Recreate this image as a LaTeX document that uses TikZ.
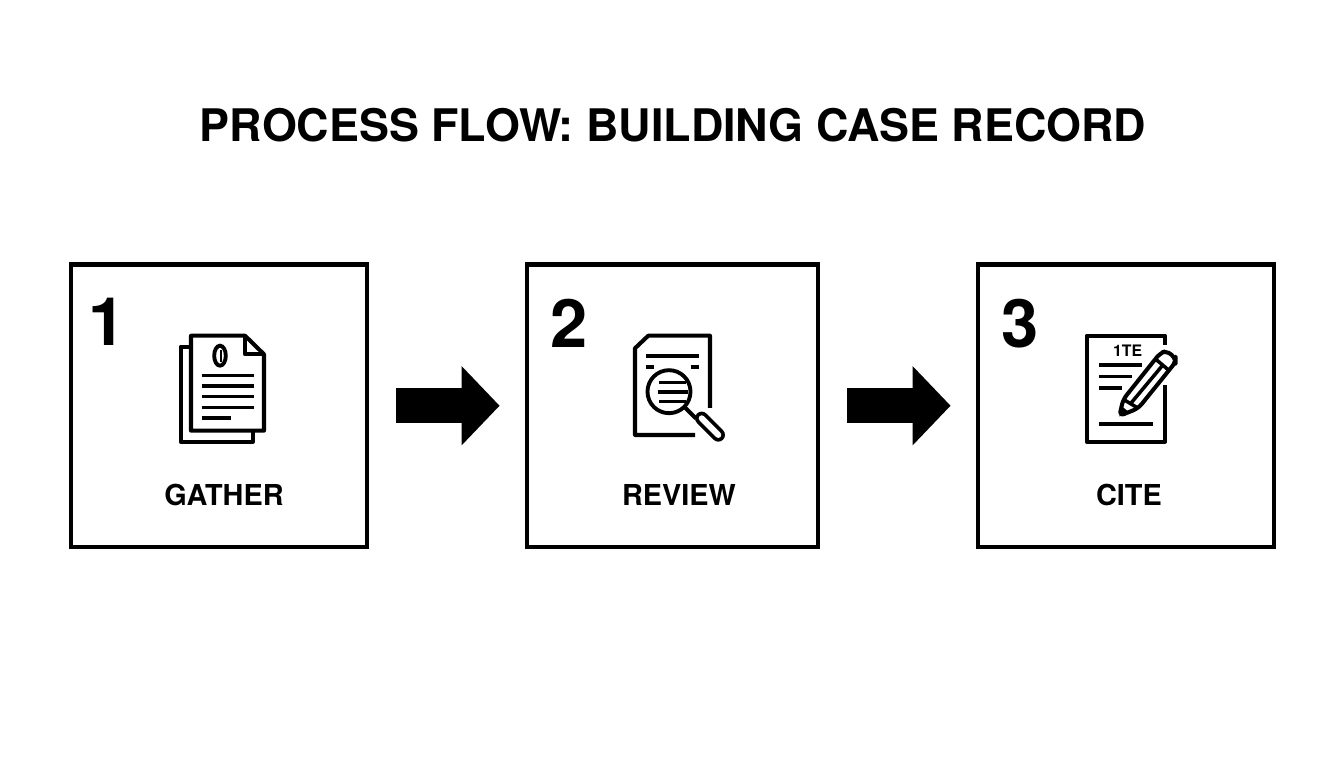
\documentclass[tikz,border=0pt]{standalone}
\usepackage{fontspec}
\setmainfont{TeX Gyre Heros}
\usetikzlibrary{arrows.meta}
\tikzset{%
  % Specifications for style of nodes:
     stepbox/.style = {rectangle, draw=black, line width=1.3pt, fill=white,
                       minimum height=2.82cm, inner sep=0pt},
  titleLabel/.style = {font=\fontsize{12.76}{15}\selectfont\bfseries},
   stepLabel/.style = {font=\fontsize{8.2}{10}\selectfont\bfseries},
  stepNumber/.style = {font=\fontsize{19}{22}\selectfont\bfseries},
  flowArrow/.style = {line width=0.35cm,
                      -{Triangle[length=0.38cm,width=0.77cm]},
                      shorten <=0.27cm, shorten >=0.25cm},
  iconLine/.style = {line width=1.15pt, line join=round},
  iconThin/.style = {line width=1pt},
}
\begin{document}
\begin{tikzpicture}[x=0.01cm,y=-0.01cm]
  \useasboundingbox (0,0) rectangle (1344,768);
  \node (title) [titleLabel] at (673,125) {PROCESS FLOW: BUILDING CASE RECORD};

  % Specification of the three boxes
  \node (boxGather) [stepbox, minimum width=2.96cm] at (219,405.75) {};
  \node (boxReview) [stepbox, minimum width=2.91cm] at (672.5,405.75) {};
  \node (boxCite)   [stepbox, minimum width=2.96cm] at (1126,405.75) {};

  \node (numGather) [stepNumber] at (107,321.5) {1};
  \node (numReview) [stepNumber] at (569,323.5) {2};
  \node (numCite)   [stepNumber] at (1020,323.5) {3};

  \node (labelGather) [stepLabel] at (224,495) {GATHER};
  \node (labelReview) [stepLabel] at (679,495) {REVIEW};
  \node (labelCite)   [stepLabel] at (1129,495) {CITE};

  % Arrows between boxes
  \draw[flowArrow] (boxGather) -- (boxReview);
  \draw[flowArrow] (boxReview) -- (boxCite);

  % Icon: stacked pages with a clip
  \draw[iconLine] (191,346.7) -- (180.7,346.7) -- (180.7,441.7) -- (252.7,441.7) -- (252.7,431);
  \draw[iconLine] (245,335.7) -- (191,335.7) -- (191,430.7) -- (264,430.7) -- (264,354.3) -- cycle;
  \draw[iconLine] (245,335.7) -- (245,354.3) -- (264,354.3);
  \draw[line width=1.1pt] (220,355.7) ellipse (5.8 and 10);
  \draw[line width=0.7pt] (221,350) -- (221,361.7);
  \foreach \y in {375.3,386,396.7,407.3}
    \draw[iconThin] (201.7,\y) -- (254,\y);
  \draw[iconThin] (201.7,418) -- (231,418);

  % Icon: page under a magnifier
  \draw[iconLine] (710,408) -- (710,335.7) -- (648.3,335.7) -- (635,348.3)
    -- (635,435) -- (695,435);
  \draw[iconThin] (646,356) -- (699.3,356);
  \draw[iconThin] (646,367) -- (654,367);
  \draw[iconThin] (691,367) -- (699.3,367);
  \draw[line width=1.1pt] (669,391.7) circle (21.5);
  \draw[iconThin] (659.3,382.7) -- (686,382.7);
  \draw[iconThin] (657.7,392) -- (688.3,392);
  \draw[iconThin] (659.3,401.3) -- (686,401.3);
  \draw[iconLine] (685,407.5) -- (696,418.5);
  \draw[line width=3.8pt, line cap=round] (701.7,418.3) -- (718.3,435);
  \draw[line width=1.7pt, line cap=round, white] (701.7,418.3) -- (718.3,435);

  % Icon: page and pencil
  \draw[iconLine] (1165,345) -- (1165,335.7) -- (1086.7,335.7) -- (1086.7,441.7)
    -- (1165,441.7) -- (1165,385);
  \node (iconText) [font=\fontsize{4.5}{5}\selectfont\bfseries] at (1127.7,350.7) {1TE};
  \draw[iconThin] (1099.3,365) -- (1142.3,365);
  \draw[iconThin] (1099.3,376.7) -- (1132.3,376.7);
  \draw[iconThin] (1099.3,388) -- (1121.7,388);
  \draw[iconThin] (1099.3,424) -- (1153.3,424);
  \draw[iconLine, fill=white, rounded corners=1.5]
    (1119.3,416) -- (1123.3,399.3) -- (1160,353.3) -- (1166.7,350.7) -- (1175.7,358.5)
    -- (1175.7,362) -- (1138.3,408.3) -- cycle;
  \fill (1119.3,416.5) -- (1122,406.5) -- (1129.5,412.5) -- cycle;
  \draw[iconThin] (1123.3,399.3) -- (1138.3,408.3);
  \draw[iconThin] (1156.7,360) -- (1169.3,370.7);
  \draw[iconThin] (1130.7,403.5) -- (1163.3,364.5);
\end{tikzpicture}
\end{document}
